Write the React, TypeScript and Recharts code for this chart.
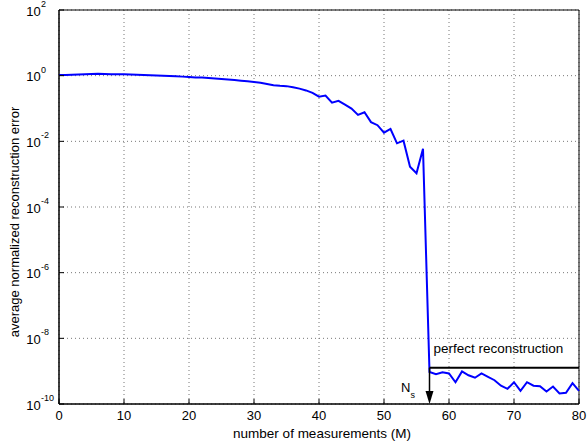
import React from 'react';
import {
  LineChart,
  Line,
  XAxis,
  YAxis,
  CartesianGrid,
  ReferenceLine,
  ReferenceDot,
  ReferenceArea,
} from 'recharts';

const measurements = [
  0, 1, 2, 3, 4, 5, 6, 7, 8, 9, 10, 11, 12, 13, 14, 15, 16, 17, 18, 19, 20,
  21, 22, 23, 24, 25, 26, 27, 28, 29, 30, 31, 32, 33, 34, 35, 36, 37, 38, 39, 40,
  41, 42, 43, 44, 45, 46, 47, 48, 49, 50, 51, 52, 53, 54, 55, 56, 57, 58, 59, 60,
  61, 62, 63, 64, 65, 66, 67, 68, 69, 70, 71, 72, 73, 74, 75, 76, 77, 78, 79, 80,
];

const avgError = [
  1.04, 1.04, 1.06, 1.08, 1.1, 1.12, 1.14, 1.12, 1.11, 1.1, 1.1,
  1.08, 1.06, 1.04, 1.03, 1.01, 0.995, 0.975, 0.955, 0.935, 0.915,
  0.886, 0.876, 0.847, 0.819, 0.79, 0.76, 0.732, 0.703, 0.674, 0.645,
  0.605, 0.557, 0.509, 0.49, 0.48, 0.442, 0.403, 0.355, 0.298, 0.23,
  0.249, 0.15, 0.172, 0.132, 0.0998, 0.0637, 0.077, 0.0385, 0.031, 0.0183,
  0.0238, 0.0087, 0.0105, 0.00168, 0.00107, 0.0059, 9.4e-10, 8.1e-10, 9.3e-10, 8.5e-10,
  4.6e-10, 9.8e-10, 7.5e-10, 6.3e-10, 8.5e-10, 6.7e-10, 5.3e-10, 3.6e-10, 2.9e-10, 4.6e-10,
  2.5e-10, 4.6e-10, 3.6e-10, 3.5e-10, 2.4e-10, 3.4e-10, 2.1e-10, 2.2e-10, 4.3e-10, 2.5e-10,
];

const xTicks = [0, 10, 20, 30, 40, 50, 60, 70, 80];
const yTicks = [1e2, 1e0, 1e-2, 1e-4, 1e-6, 1e-8, 1e-10];

const nS = 57;
const perfectLevel = 1.27e-9;
const perfectLabelAt = 67.6;

const data = measurements.map((m, i) => ({ m, err: avgError[i] }));

const FONT = "'Liberation Sans', Arial, sans-serif";

const XTick = ({ x, y, payload }: any) => (
  <g>
    <line x1={x} y1={y - 4} x2={x} y2={y - 9} stroke="#000" />
    <text x={x} y={y + 11.5} textAnchor="middle" fontSize={13} fontFamily={FONT} fill="#000">
      {payload.value}
    </text>
  </g>
);

const YTick = ({ x, y, payload }: any) => {
  const exp = Math.round(Math.log10(payload.value));
  return (
    <g>
      <line x1={x + 8} y1={y} x2={x + 13} y2={y} stroke="#000" />
      <text x={x - 10.3} y={y + 5.5} textAnchor="end" fontSize={13} fontFamily={FONT} fill="#000">
        10
      </text>
      <text x={x - 10} y={y - 3} textAnchor="start" fontSize={9} fontFamily={FONT} fill="#000">
        {exp}
      </text>
    </g>
  );
};

const YLabel = ({ viewBox }: any) => {
  const cx = viewBox.x + 18.5;
  const cy = viewBox.y + viewBox.height / 2 + 15;
  return (
    <text
      x={cx}
      y={cy}
      transform={`rotate(-90, ${cx}, ${cy})`}
      textAnchor="middle"
      fontSize={13}
      fontFamily={FONT}
      fill="#000"
    >
      average normalized reconstruction error
    </text>
  );
};

const App: React.FC = () => {
  return (
    <div style={{ position: 'absolute', left: 0, top: 0, background: '#fff' }}>
      <LineChart
        width={587}
        height={445}
        data={data}
        margin={{ top: 10, right: 8, left: 0, bottom: 0 }}
      >
        <CartesianGrid stroke="#777" strokeDasharray="1 3" />
        <XAxis
          dataKey="m"
          type="number"
          domain={[0, 80]}
          ticks={xTicks}
          height={41}
          tickSize={0}
          tickMargin={4}
          tick={<XTick />}
          axisLine={{ stroke: '#000' }}
          label={{
            value: 'number of measurements (M)',
            position: 'insideBottom',
            offset: 7,
            dx: 3,
            fontSize: 13.5,
            fontFamily: FONT,
            fill: '#000',
          }}
        />
        <YAxis
          type="number"
          scale="log"
          domain={[1e-10, 1e2]}
          allowDataOverflow
          ticks={yTicks}
          width={59}
          tickSize={0}
          tickMargin={8}
          tick={<YTick />}
          axisLine={{ stroke: '#000' }}
          label={<YLabel />}
        />
        <ReferenceArea
          x1={0}
          x2={80}
          y1={1e-10}
          y2={1e2}
          fill="none"
          stroke="#000"
          strokeOpacity={1}
          ifOverflow="visible"
        />
        <Line
          type="linear"
          dataKey="err"
          stroke="#0000ff"
          strokeWidth={2}
          dot={false}
          isAnimationActive={false}
        />
        <ReferenceLine
          segment={[
            { x: nS, y: perfectLevel },
            { x: 80, y: perfectLevel },
          ]}
          stroke="#000"
          strokeWidth={2}
          ifOverflow="visible"
        />
        <ReferenceLine
          segment={[
            { x: nS, y: perfectLevel },
            { x: nS, y: 1.4e-10 },
          ]}
          stroke="#000"
          strokeWidth={1.5}
          ifOverflow="visible"
        />
        <ReferenceDot
          x={nS}
          y={1e-10}
          r={0}
          ifOverflow="visible"
          shape={(p: any) => (
            <g>
              <polygon
                points={`${p.cx - 4},${p.cy - 13} ${p.cx + 4},${p.cy - 13} ${p.cx},${p.cy}`}
                fill="#000"
              />
              <text x={p.cx - 19} y={p.cy - 12.3} textAnchor="end" fontSize={13} fontFamily={FONT} fill="#000">
                N
              </text>
              <text x={p.cx - 19} y={p.cy - 6} textAnchor="start" fontSize={9} fontFamily={FONT} fill="#000">
                s
              </text>
            </g>
          )}
        />
        <ReferenceDot
          x={perfectLabelAt}
          y={perfectLevel}
          r={0}
          ifOverflow="visible"
          shape={(p: any) => (
            <text x={p.cx} y={p.cy - 14.7} textAnchor="middle" fontSize={13.5} fontFamily={FONT} fill="#000">
              perfect reconstruction
            </text>
          )}
        />
      </LineChart>
    </div>
  );
};

export default App;
